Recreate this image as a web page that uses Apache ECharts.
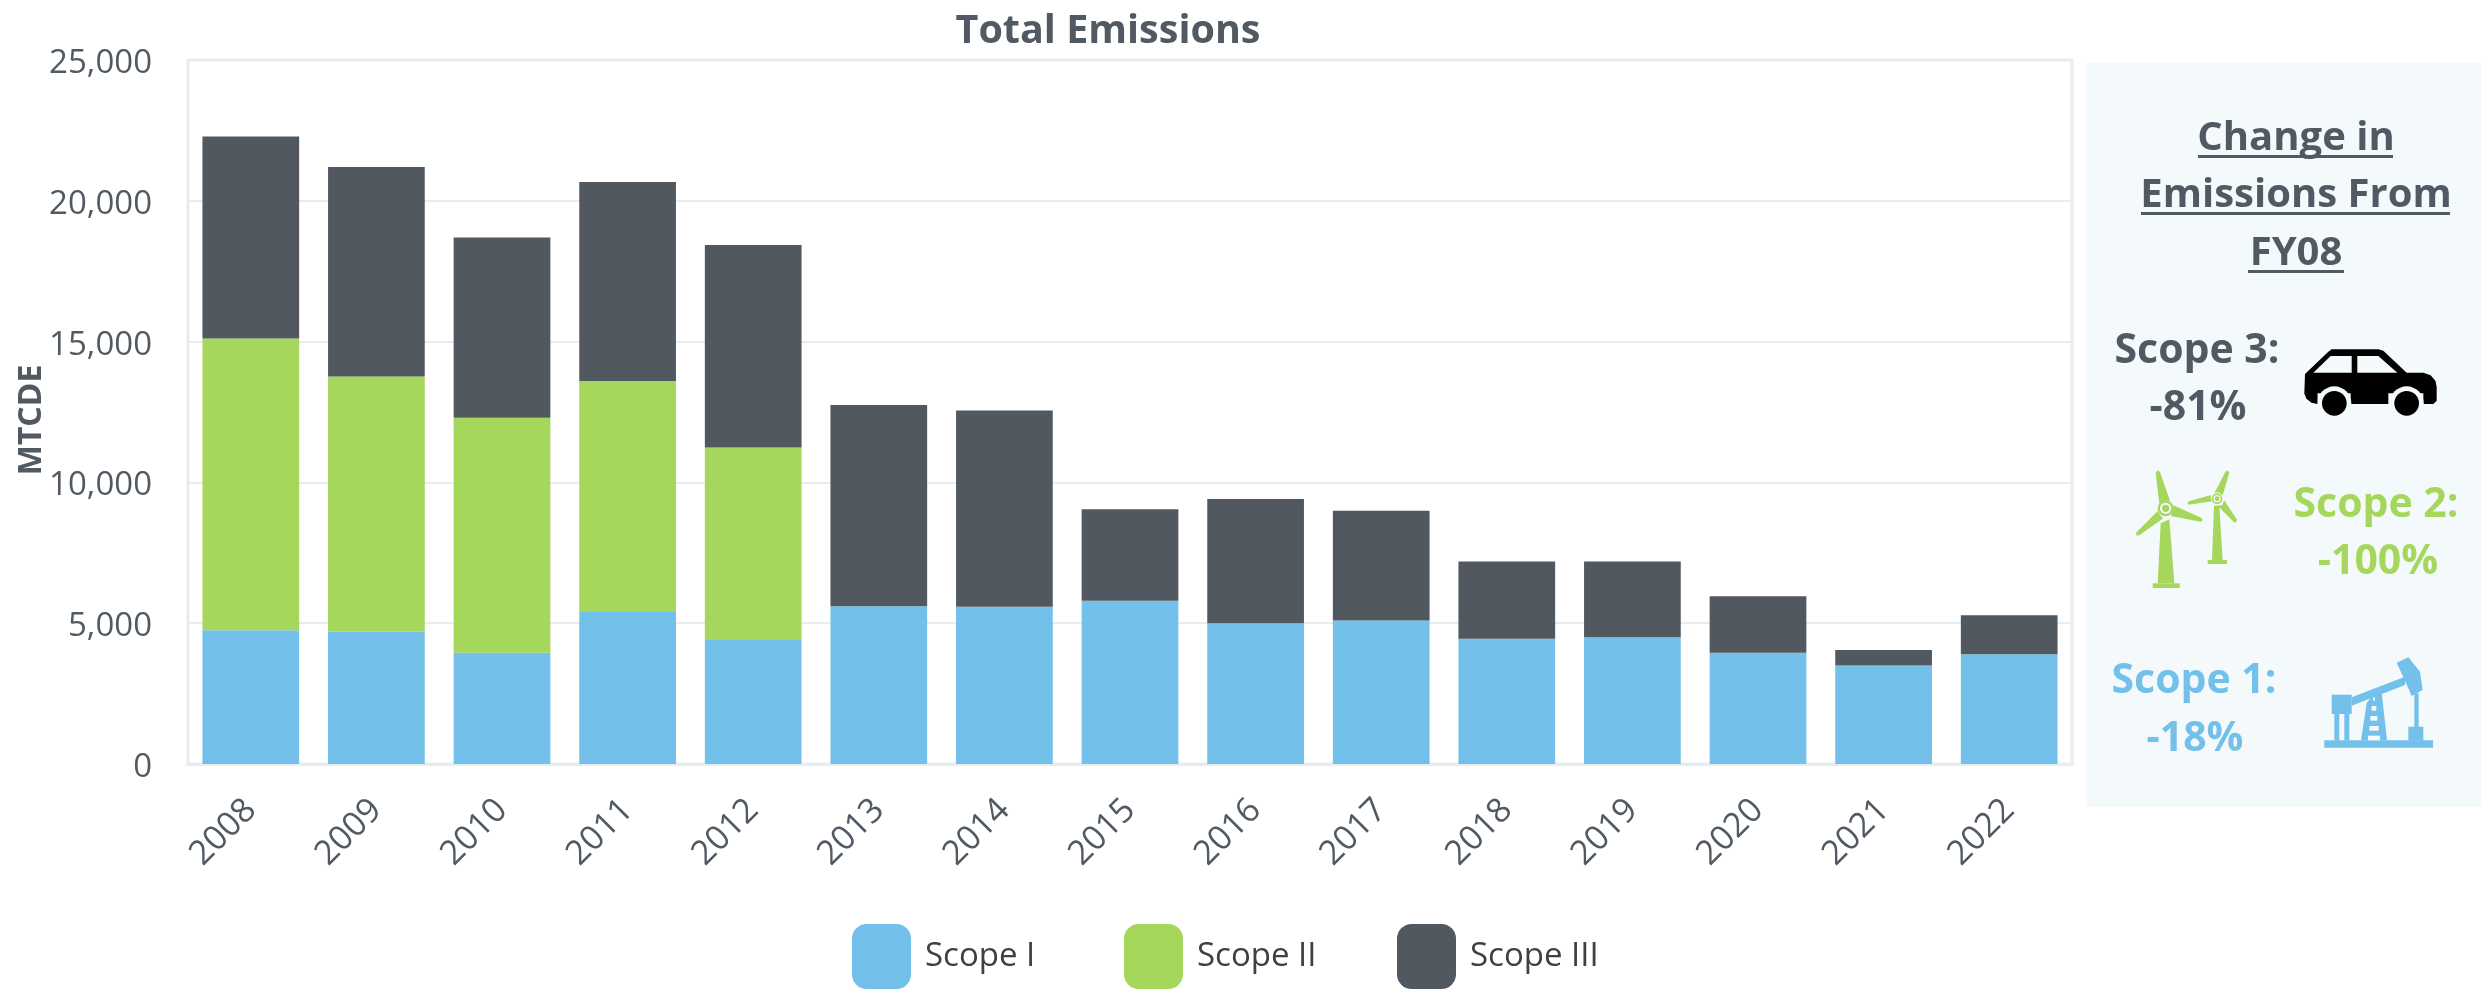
<!DOCTYPE html>
<html><head><meta charset="utf-8">
<style>html,body{margin:0;padding:0;background:#fff}#c{width:2481px;height:989px}</style>
<script src="https://cdn.jsdelivr.net/npm/echarts@6/dist/echarts.min.js"></script>
</head><body><div id="c"></div>
<script>
const years = ['2008','2009','2010','2011','2012','2013','2014','2015','2016','2017','2018','2019','2020','2021','2022'];
const scope1 = [4750,4700,3950,5400,4400,5600,5580,5800,5000,5100,4450,4500,3950,3500,3900];
const scope2 = [10360,9060,8350,8200,6840,0,0,0,0,0,0,0,0,0,0];
const scope3 = [7170,7440,6400,7070,7190,7150,6970,3250,4410,3890,2740,2690,2010,550,1380];

const BLUE='#73C1EA', GREEN='#A6D75D', DARK='#515860', TXT='#515A63', PANEL='#F4F9FB', LINE='#E5EDF1';
const FONT='"Open Sans"';

const chart = echarts.init(document.getElementById('c'), null, {renderer:'canvas'});

function lbl(text,cx,base,color,size){
  size=size||40;
  return {type:'text', style:{text, x:cx, y:base+11, textAlign:'center', textVerticalAlign:'bottom',
    font:'bold '+size+'px '+FONT, fill:color}, z:5, silent:true};
}
function ul(x1,x2,y){ return {type:'rect', shape:{x:x1,y:y,width:x2-x1,height:3}, style:{fill:TXT}, z:5, silent:true}; }
function icon(ox,oy,children){ children.forEach(ch=>{ch.z=5;}); return {type:'group', x:ox, y:oy, scaleX:1/3, scaleY:1/3, silent:true, children}; }
function p(pts,fill){ return {type:'polygon', shape:{points:pts}, style:{fill}}; }
function c(cx,cy,r,fill){ return {type:'circle', shape:{cx,cy,r}, style:{fill}}; }
function r(x,y,w,h,fill){ return {type:'rect', shape:{x,y,width:w,height:h}, style:{fill}}; }

const car = icon(2080,50,[
  p([[675,972],[745,905],[755,898],[895,898],[910,902],[980,968],[1030,968],[1052,976],[1066,992],[1070,1010],[1070,1052],[1060,1062],[1030,1062],[1030,1030],[925,1030],[925,1062],[812,1062],[812,1030],[712,1030],[712,1060],[695,1058],[680,1046],[673,1030]],'#000'),
  p([[700,968],[752,918],[815,918],[815,968]],PANEL),
  p([[832,918],[895,918],[952,968],[832,968]],PANEL),
  c(763,1060,51,PANEL), c(980,1060,51,PANEL),
  p([[673,1030],[712,1030],[712,1062],[695,1058],[680,1046]],'#000'),
  r(700,1063,130,45,PANEL), r(905,1063,150,45,PANEL),
  c(763,1060,37,'#000'), c(980,1060,37,'#000')
]);
const turbines = icon(2080,440,[
  p([[242,250],[268,238],[283,430],[233,430]],GREEN), r(218,430,81,14,GREEN),
  p([[227,98],[233,91],[240,96],[270,182],[250,182],[238,192]],GREEN),
  p([[280,196],[365,234],[368,241],[362,245],[272,228],[279,212]],GREEN),
  p([[234,212],[240,226],[250,235],[178,286],[170,287],[168,278]],GREEN),
  c(257,205,24,GREEN), c(257,205,17,PANEL), c(257,205,11,GREEN),
  p([[402,197],[418,197],[428,360],[396,360]],GREEN), r(383,360,58,12,GREEN),
  p([[403,160],[436,96],[443,91],[448,98],[428,166],[414,156]],GREEN),
  p([[394,165],[326,184],[322,189],[326,194],[396,184],[392,174]],GREEN),
  p([[432,180],[470,238],[470,246],[462,247],[414,198],[428,194]],GREEN),
  c(411,176,16,GREEN), c(411,176,11,PANEL), c(411,176,7,GREEN)
]);
const jack = icon(2080,440,[
  r(733,901,326,22,BLUE),
  r(755,764,60,58,BLUE), r(763,822,15,80,BLUE), r(793,822,15,80,BLUE),
  p([[815,772],[975,710],[975,735],[815,797]],BLUE),
  p([[950,668],[985,652],[1020,695],[1028,750],[995,768],[975,722]],BLUE),
  r(1003,760,13,102,BLUE), r(985,860,45,42,BLUE),
  p([[860,790],[878,765],[905,757],[921,901],[843,901]],BLUE),
  r(879,772,6,10,PANEL), r(875,798,14,14,PANEL), r(871,828,21,14,PANEL), r(868,858,28,14,PANEL), r(864,887,36,14,PANEL)
]);

function legend1(name,left){
  return {left,top:924,itemWidth:59,itemHeight:65,icon:'roundRect',padding:0,data:[name],selectedMode:false,
    textStyle:{fontFamily:FONT,fontSize:33,color:'#404040',padding:[0,0,0,9]}};
}

chart.setOption({
  animation:false,
  backgroundColor:'#fff',
  textStyle:{fontFamily:FONT},
  title:{text:'Total Emissions', left:1103, top:7, textAlign:'center',
    textStyle:{fontFamily:FONT,fontWeight:'bold',fontSize:39.5,color:TXT}},
  grid:{left:188,top:60,right:409,bottom:225,show:true,borderColor:LINE,borderWidth:3,backgroundColor:'transparent',outerBoundsMode:'none'},
  legend:[legend1('Scope I',852),legend1('Scope II',1124),legend1('Scope III',1397)],
  xAxis:{type:'category',data:years,
    axisLine:{show:true,lineStyle:{color:LINE,width:3}},axisTick:{show:false},
    axisLabel:{rotate:45,margin:41,fontSize:34,color:TXT,fontFamily:FONT,interval:0}},
  yAxis:{type:'value',min:0,max:25000,interval:5000,
    name:'MTCDE',nameLocation:'middle',nameGap:140,nameMoveOverlap:false,
    nameTextStyle:{fontFamily:FONT,fontWeight:'bold',fontSize:32,color:TXT,padding:[0,16,0,0]},
    axisLine:{show:false},axisTick:{show:false},
    splitLine:{lineStyle:{color:LINE,width:2}},
    axisLabel:{margin:36,formatter:v=>'{v|'+v.toLocaleString('en-US')+'}',
      rich:{v:{fontSize:33,color:TXT,fontFamily:FONT,padding:[7,0,0,0]}}}},
  series:[
    {name:'Scope I',type:'bar',stack:'t',barWidth:'77%',data:scope1,itemStyle:{color:BLUE}},
    {name:'Scope II',type:'bar',stack:'t',data:scope2,itemStyle:{color:GREEN}},
    {name:'Scope III',type:'bar',stack:'t',data:scope3,itemStyle:{color:DARK}}
  ],
  graphic:[
    {type:'rect',shape:{x:2086,y:63,width:395,height:744},style:{fill:PANEL},z:1,silent:true},
    lbl('Change in',2296,148,TXT), ul(2198,2393,155),
    lbl('Emissions From',2296,205,TXT), ul(2141,2450,212),
    lbl('FY08',2296,263,TXT), ul(2248,2344,270),
    lbl('Scope 3:',2197,361,TXT,41), lbl('-81%',2198,418,TXT,41),
    lbl('Scope 2:',2376,515,GREEN,41), lbl('-100%',2378,572,GREEN,41),
    lbl('Scope 1:',2194,691,BLUE,41), lbl('-18%',2195,749,BLUE,41),
    car, turbines, jack
  ]
});
</script></body></html>
